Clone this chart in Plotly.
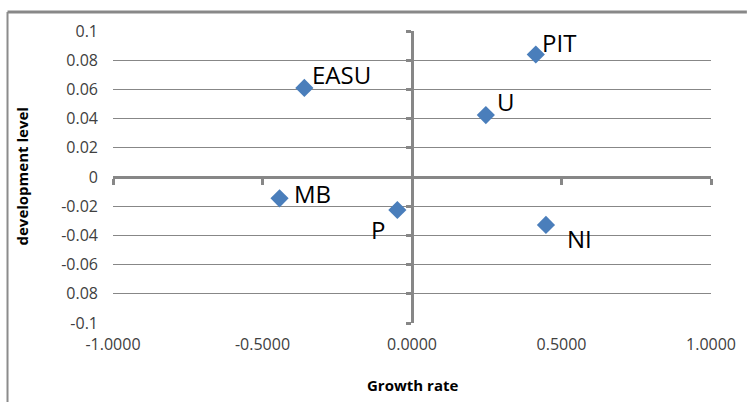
import plotly.graph_objects as go

# ---- data ----
labels = ["EASU", "MB", "P", "U", "PIT", "NI"]
growth_rate = [-0.360, -0.443, -0.049, 0.247, 0.414, 0.448]
development_level = [0.0610, -0.0146, -0.0226, 0.0424, 0.0839, -0.0328]

x_tickvals = [-1.0, -0.5, 0.0, 0.5, 1.0]
x_ticktext = ["-1.0000", "-0.5000", "0.0000", "0.5000", "1.0000"]
y_tickvals = [0.1, 0.08, 0.06, 0.04, 0.02, 0, -0.02, -0.04, -0.06, -0.08, -0.1]
y_ticktext = ["0.1", "0.08", "0.06", "0.04", "0.02", "0", "-0.02", "-0.04", "-0.06", "0.08", "-0.1"]

# label placement (pixel offsets, anchors)
label_style = {
    "EASU": dict(xanchor="left", yanchor="middle", xshift=6, yshift=13),
    "MB": dict(xanchor="left", yanchor="middle", xshift=12, yshift=5),
    "P": dict(xanchor="right", yanchor="middle", xshift=-10, yshift=-19),
    "U": dict(xanchor="left", yanchor="middle", xshift=9, yshift=14),
    "PIT": dict(xanchor="left", yanchor="middle", xshift=4, yshift=12),
    "NI": dict(xanchor="left", yanchor="middle", xshift=19, yshift=-14),
}

FONT = "Open Sans, Liberation Sans, Arial, sans-serif"
GRID = "#878787"
AXIS = "#878787"

fig = go.Figure()
fig.add_trace(go.Scatter(
    x=growth_rate, y=development_level, mode="markers",
    marker=dict(symbol="diamond", size=14, color="#4A7EBB", line=dict(width=0)),
    showlegend=False, hoverinfo="skip",
))
# empty trace to realise the zero-crossing axes
fig.add_trace(go.Scatter(x=[], y=[], xaxis="x2", yaxis="y2", showlegend=False))

for lab, gx, dy in zip(labels, growth_rate, development_level):
    st = label_style[lab]
    fig.add_annotation(x=gx, y=dy, text=lab, showarrow=False,
                       font=dict(family=FONT, size=24, color="#000000"), **st)

fig.add_annotation(text="<b>development level</b>", xref="paper", yref="paper",
                   x=-0.153, y=0.5, xanchor="center", yanchor="middle",
                   textangle=-90, showarrow=False,
                   font=dict(family=FONT, size=15, color="#000000"))
fig.add_annotation(text="<b>Growth rate</b>", xref="paper", yref="paper",
                   x=0.5, y=-0.212, xanchor="center", yanchor="middle",
                   showarrow=False,
                   font=dict(family=FONT, size=15, color="#000000"))

# outer chart border: top and left edges
BORDER = dict(color="#888888", width=3)
fig.add_shape(type="line", xref="paper", yref="paper",
              x0=-0.1764, x1=1.06, y0=1.065, y1=1.065, line=BORDER)
fig.add_shape(type="line", xref="paper", yref="paper",
              x0=-0.1764, x1=-0.1764, y0=-0.28, y1=1.065, line=dict(color="#8c8c8c", width=2))

fig.update_layout(
    width=748, height=402,
    margin=dict(l=113, r=34, t=31, b=79),
    paper_bgcolor="white", plot_bgcolor="white",
    font=dict(family=FONT),
    xaxis=dict(range=[-1, 1], tickvals=x_tickvals, ticktext=x_ticktext,
               showgrid=False, zeroline=False, showline=False, ticks="",
               tickfont=dict(family=FONT, size=16, color="#404040"),
               ticklabelstandoff=10),
    yaxis=dict(range=[-0.1, 0.1], tickvals=y_tickvals, ticktext=y_ticktext,
               showgrid=True, gridcolor=GRID, gridwidth=1, zeroline=False,
               showline=False, ticks="",
               tickfont=dict(family=FONT, size=16, color="#404040"),
               ticklabelstandoff=14),
    xaxis2=dict(overlaying="x", anchor="free", position=0.5, side="bottom",
                range=[-1, 1], tickvals=x_tickvals, showticklabels=False,
                showgrid=False, zeroline=False, showline=True,
                linecolor=AXIS, linewidth=3, ticks="outside", ticklen=6,
                tickwidth=3, tickcolor=AXIS, layer="below traces"),
    yaxis2=dict(overlaying="y", anchor="free", position=0.5, side="left",
                range=[-0.1, 0.1], tickvals=y_tickvals, showticklabels=False,
                showgrid=False, zeroline=False, showline=True,
                linecolor=AXIS, linewidth=3, ticks="outside", ticklen=5,
                tickwidth=3, tickcolor=AXIS, layer="below traces"),
)

fig.write_html("out.html", config={"displayModeBar": False},
               post_script="document.body.style.margin='0';document.body.style.overflow='hidden';")
